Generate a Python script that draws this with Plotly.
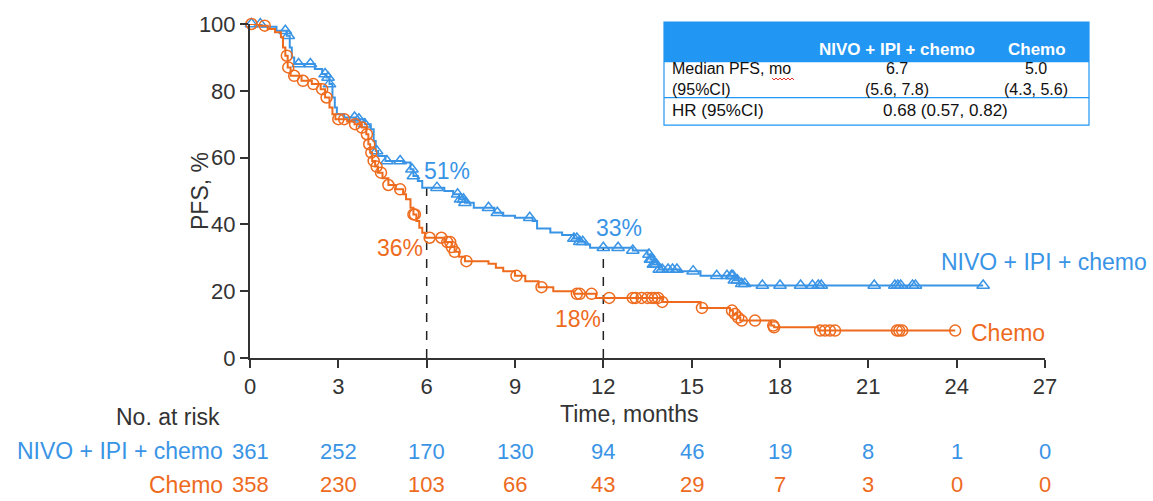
import numpy as np
import plotly.graph_objects as go

# ---- Kaplan-Meier steps: time (months) and PFS (%) after each step ----
nivo_t = [0, 0.4, 0.9, 1.25, 1.35, 1.42, 1.5, 2.2, 2.45, 2.6, 2.7, 2.8, 2.88, 2.95,
          3.2, 3.6, 3.9, 4.1, 4.2, 4.27, 4.35, 4.6, 5.2, 5.45, 5.55, 5.7, 5.85,
          6.6, 6.9, 7.1, 7.3, 7.6, 8.3, 8.6, 9.0, 9.6, 9.75, 10.2, 10.6, 11.0,
          11.2, 11.4, 11.55, 13.0, 13.5, 13.6, 13.7, 13.9, 14.6, 15.3, 16.45,
          16.6, 16.9, 24.9]
nivo_s = [100, 99.2, 98, 96.5, 93, 90, 88, 86.5, 85, 84, 82, 78, 75, 73,
          72, 71.5, 70, 68.5, 65, 62, 60.5, 59, 58.5, 56.5, 54.5, 53, 51,
          50, 49, 47.5, 46.5, 45, 43.5, 42.6, 42, 41, 38.8, 37.6, 36.8, 35.8,
          34.8, 34, 33, 32.2, 31, 29.5, 28, 26.5, 26, 24.6, 23.3,
          22.2, 21.7, 21.7]
nivo_cens = [0.05, 0.35, 1.2, 1.3, 1.65, 2.05, 2.55, 2.65, 2.7, 3.55, 3.7, 3.9, 4.3,
             4.65, 5.1, 5.5, 5.55, 6.35, 7.05, 7.15, 7.25, 7.3, 8.1, 8.4, 9.5,
             11.0, 11.1, 11.2, 11.3, 12.0, 12.5, 13.0, 13.55, 13.6, 13.65, 13.7,
             13.75, 13.8, 13.9, 14.0, 14.2, 14.35, 14.5, 15.05, 15.85, 16.2,
             16.35, 16.4, 16.45, 16.55, 16.7, 16.8, 17.4, 18.0, 18.7, 19.1, 19.3,
             19.4, 21.2, 21.9, 22.0, 22.1, 22.5, 22.6, 24.9]

chemo_t = [0, 0.3, 0.6, 0.85, 1.05, 1.12, 1.2, 1.28, 1.38, 1.75, 2.1, 2.4, 2.55,
           2.7, 2.8, 2.9, 3.3, 3.55, 3.8, 3.95, 4.02, 4.08, 4.15, 4.25, 4.35,
           4.5, 4.7, 4.95, 5.2, 5.3, 5.45, 5.55, 5.65, 5.75, 5.85, 5.95, 6.6,
           6.85, 6.95, 7.1, 7.3, 8.1, 8.35, 8.6, 9.0, 9.35, 9.8, 10.3, 11.0,
           11.75, 14.0, 15.3, 16.3, 16.4, 16.55, 16.65, 17.7, 17.8, 19.3, 23.95]
chemo_s = [100, 99.5, 98.5, 97.5, 96, 93, 90.5, 87, 84.5, 83, 82, 80.5, 78,
           75, 73, 71.5, 70.8, 70, 69, 67, 64, 61.5, 59, 57.3, 55.5,
           53.8, 51.8, 50.5, 49, 47.5, 45, 43, 41, 39, 37.5, 36, 34.7,
           33.2, 31.8, 30.3, 29, 28.2, 27, 26, 24.6, 23, 21.2, 20, 19.2,
           18, 16.8, 15, 14.2, 13.2, 12.1, 11.2, 9.7, 9.2, 8.2, 8.2]
chemo_cens = [0.05, 0.5, 1.25, 1.3, 1.5, 1.8, 2.15, 2.45, 2.6, 3.0, 3.2, 3.57, 3.8,
              3.97, 4.05, 4.12, 4.2, 4.3, 4.45, 4.7, 5.1, 5.55, 5.6, 6.1, 6.5,
              6.7, 6.8, 6.85, 6.95, 7.35, 9.05, 9.9, 11.1, 11.2, 11.6, 12.2,
              13.0, 13.1, 13.3, 13.5, 13.65, 13.75, 13.86, 14.0, 15.35, 16.37,
              16.47, 16.58, 16.7, 17.15, 17.77, 17.8, 19.36, 19.53, 19.7, 19.87,
              21.97, 22.05, 22.15, 23.95]

# ---- landmark rates, risk table, summary table ----
landmarks = [6, 12]
nivo_landmark_lbl = ["51%", "33%"]
chemo_landmark_lbl = ["36%", "18%"]

risk_times = [0, 3, 6, 9, 12, 15, 18, 21, 24, 27]
nivo_risk = [361, 252, 170, 130, 94, 46, 19, 8, 1, 0]
chemo_risk = [358, 230, 103, 66, 43, 29, 7, 3, 0, 0]

arm_names = ["NIVO + IPI + chemo", "Chemo"]
median_pfs = ["6.7", "5.0"]
median_ci = ["(5.6, 7.8)", "(4.3, 5.6)"]
hr_text = "0.68 (0.57, 0.82)"

BLUE = "#3A94E6"
ORANGE = "#EE6B1E"
HEAD = "#2196F3"
INK = "#333333"
FONT = "Liberation Sans, Arial, Helvetica, sans-serif"
TXT = 23      # annotation text size
NUM = 22      # tick / count size

# plot-area geometry in pixels (used for paper-referenced labels)
W, H = 1153, 501
ML, MR, MT, MB = 250, 108, 18, 143
PW, PH = W - ML - MR, H - MT - MB


def px(x):
    return (x - ML) / PW


def py(y):
    return (H - MB - y) / PH


def km_at(t, s, q):
    t = np.asarray(t)
    s = np.asarray(s)
    idx = np.searchsorted(t, np.asarray(q), side="right") - 1
    return s[np.clip(idx, 0, len(s) - 1)]


fig = go.Figure()
for t, s, c, col, sym, size in [
    (nivo_t, nivo_s, nivo_cens, BLUE, "triangle-up-open", 11),
    (chemo_t, chemo_s, chemo_cens, ORANGE, "circle-open", 11),
]:
    fig.add_trace(go.Scatter(x=t, y=s, mode="lines", line=dict(color=col, width=2, shape="hv"),
                             hoverinfo="skip", showlegend=False, cliponaxis=False))
    fig.add_trace(go.Scatter(x=c, y=km_at(t, s, c), mode="markers",
                             marker=dict(symbol=sym, size=size, color=col, line=dict(color=col, width=1.5)),
                             showlegend=False, cliponaxis=False))

shapes = []
# dashed landmark lines
for lm in landmarks:
    top = float(km_at(nivo_t, nivo_s, [lm])[0])
    shapes.append(dict(type="line", xref="x", yref="y", x0=lm, x1=lm, y0=0, y1=top,
                       line=dict(color="#222", width=1.5, dash="dash"), layer="below"))

annotations = []
# landmark labels
annotations += [
    dict(x=6.7, y=55.9, xref="x", yref="y", text=nivo_landmark_lbl[0], font=dict(color=BLUE, size=TXT)),
    dict(x=12.53, y=38.8, xref="x", yref="y", text=nivo_landmark_lbl[1], font=dict(color=BLUE, size=TXT)),
    dict(x=5.1, y=32.9, xref="x", yref="y", text=chemo_landmark_lbl[0], font=dict(color=ORANGE, size=TXT)),
    dict(x=11.14, y=11.8, xref="x", yref="y", text=chemo_landmark_lbl[1], font=dict(color=ORANGE, size=TXT)),
]
# curve labels
annotations += [
    dict(x=px(939), y=py(260), xref="paper", yref="paper", text=arm_names[0], xanchor="left",
         font=dict(color=BLUE, size=TXT)),
    dict(x=px(969), y=py(333), xref="paper", yref="paper", text=arm_names[1], xanchor="left",
         font=dict(color=ORANGE, size=TXT)),
]
# axis titles
annotations += [
    dict(x=px(185), y=py(188), xref="paper", yref="paper", text="PFS, %", textangle=-90,
         font=dict(color=INK, size=TXT)),
    dict(x=px(629), y=py(415), xref="paper", yref="paper", text="Time, months",
         font=dict(color=INK, size=TXT)),
]
# risk table
annotations.append(dict(x=px(222), y=py(418), xref="paper", yref="paper", text="No. at risk",
                        xanchor="right", font=dict(color=INK, size=TXT)))
for name, counts, col, yy in [(arm_names[0], nivo_risk, BLUE, 453), (arm_names[1], chemo_risk, ORANGE, 487)]:
    annotations.append(dict(x=px(225), y=py(yy), xref="paper", yref="paper", text=name,
                            xanchor="right", font=dict(color=col, size=TXT)))
    for tt, n in zip(risk_times, counts):
        annotations.append(dict(x=tt, y=py(yy), xref="x", yref="paper", text=str(n),
                                font=dict(color=col, size=NUM)))

# summary table (top right)
TX0, TX1 = 664, 1089
shapes += [
    dict(type="rect", xref="paper", yref="paper", x0=px(TX0), x1=px(TX1), y0=py(57), y1=py(16),
         fillcolor=HEAD, line=dict(width=0), layer="above"),
    dict(type="rect", xref="paper", yref="paper", x0=px(TX0), x1=px(TX1), y0=py(121), y1=py(16),
         fillcolor="rgba(0,0,0,0)", line=dict(color=HEAD, width=1.2), layer="above"),
    dict(type="line", xref="paper", yref="paper", x0=px(TX0), x1=px(TX1), y0=py(93), y1=py(93),
         line=dict(color=HEAD, width=1.2), layer="above"),
]
# spell-check squiggle under "mo"
zx = np.arange(772, 796, 2)
zy = np.where(np.arange(len(zx)) % 2 == 0, 73, 75)
path = "M " + " L ".join(f"{px(a):.5f},{py(b):.5f}" for a, b in zip(zx, zy))
shapes.append(dict(type="path", xref="paper", yref="paper", path=path,
                   line=dict(color="#E0302A", width=1), layer="above"))

tbl = [
    (897, 44, "<b>" + arm_names[0] + "</b>", "center", "white", 17),
    (1037, 44, "<b>" + arm_names[1] + "</b>", "center", "white", 17),
    (670, 74, "Median PFS, mo<br>(95%CI)", "left", "#111", 16),
    (897, 74, median_pfs[0] + "<br>" + median_ci[0], "center", "#111", 16),
    (1036, 74, median_pfs[1] + "<br>" + median_ci[1], "center", "#111", 16),
    (670, 106, "HR (95%CI)", "left", "#111", 17),
    (945, 106, hr_text, "center", "#111", 17),
]
for x, y, txt, anc, col, fs in tbl:
    annotations.append(dict(x=px(x), y=py(y), xref="paper", yref="paper", text=txt, xanchor=anc,
                            align=anc, font=dict(color=col, size=fs)))

for a in annotations:
    a.setdefault("showarrow", False)
    a.setdefault("yanchor", "middle")

fig.update_layout(
    width=W, height=H,
    margin=dict(l=ML, r=MR, t=MT, b=MB),
    paper_bgcolor="white", plot_bgcolor="white",
    font=dict(family=FONT, color=INK, size=NUM),
    shapes=shapes, annotations=annotations,
    xaxis=dict(range=[0, 27], tickvals=risk_times, showgrid=False, zeroline=False,
               showline=True, linecolor=INK, linewidth=2, ticks="outside", ticklen=8,
               tickwidth=2, tickcolor=INK, tickfont=dict(size=NUM, color=INK)),
    yaxis=dict(range=[0, 100], tickvals=[0, 20, 40, 60, 80, 100], showgrid=False, zeroline=False,
               showline=True, linecolor=INK, linewidth=2, ticks="outside", ticklen=8,
               tickwidth=2, tickcolor=INK, tickfont=dict(size=NUM, color=INK)),
)

fig.write_html("out.html")
